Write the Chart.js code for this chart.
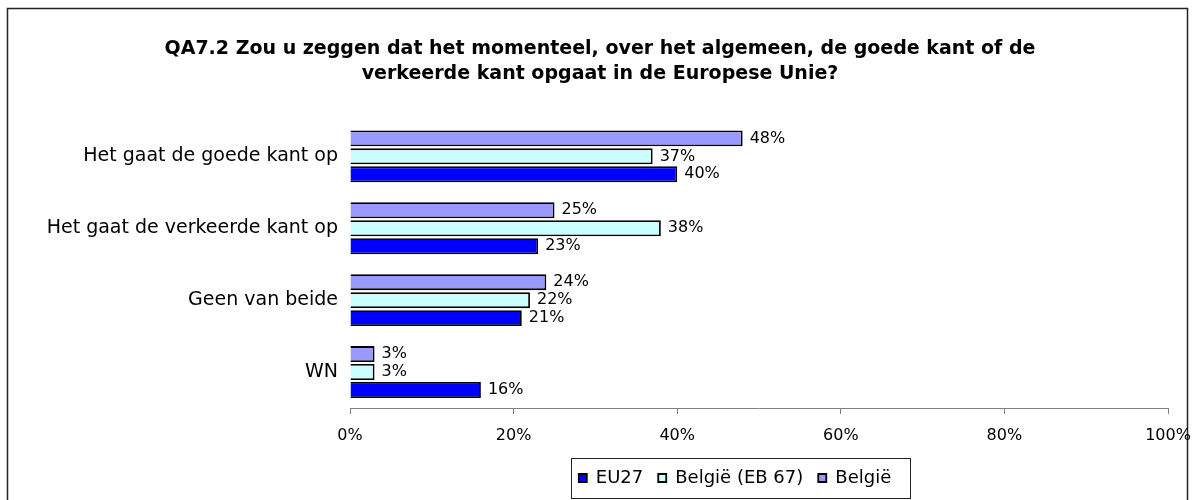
<!DOCTYPE html>
<html>
<head>
<meta charset="utf-8">
<script src="https://cdn.jsdelivr.net/npm/chart.js"></script>
<style>
  html, body { margin: 0; padding: 0; background: #fff; }
  #wrap { position: relative; width: 1195px; height: 500px; }
</style>
</head>
<body>
<div id="wrap"><canvas id="bar-chart"></canvas></div>
<script>
const categories = ['Het gaat de goede kant op', 'Het gaat de verkeerde kant op', 'Geen van beide', 'WN'];
const belgie = [48, 25, 24, 3];
const belgieEb67 = [37, 38, 22, 3];
const eu27 = [40, 23, 21, 16];
const xTicks = [0, 20, 40, 60, 80, 100];

const FONT = 'DejaVu Sans';
const LEGEND_SHIFT = 135;

// outer frame of the picture
const frame = {
  id: 'frame',
  beforeDraw(chart) {
    const ctx = chart.ctx;
    ctx.save();
    ctx.strokeStyle = '#222';
    ctx.lineWidth = 1.5;
    ctx.strokeRect(7.5, 8.5, 1180, 520);
    ctx.restore();
  }
};

// move the legend to the right and box it in
const legendBox = {
  id: 'legendBox',
  afterLayout(chart) {
    const lg = chart.legend;
    lg.left += LEGEND_SHIFT;
    lg.right += LEGEND_SHIFT;
  },
  afterDraw(chart) {
    const lg = chart.legend;
    if (!lg || !lg.lineWidths) return;
    const pad = lg.options.labels.padding;
    const size = lg.options.labels.font.size;
    const start = (lg.left + pad + lg.right - lg.lineWidths[0]) / 2;
    const end = start + lg.lineWidths[0] - pad;
    const mid = lg.top + pad + size / 2;
    const ctx = chart.ctx;
    ctx.save();
    ctx.strokeStyle = '#222';
    ctx.lineWidth = 1;
    const l = Math.round(start - 8) + 0.5, r = Math.round(end + 19) + 0.5;
    const t = Math.round(mid - 20) + 0.5;
    ctx.strokeRect(l, t, r - l, 40);
    ctx.restore();
  }
};

const barLabels = {
  id: 'barLabels',
  afterDatasetsDraw(chart) {
    const ctx = chart.ctx;
    ctx.save();
    ctx.font = '16px "' + FONT + '"';
    ctx.fillStyle = '#000';
    ctx.textBaseline = 'middle';
    chart.data.datasets.forEach((ds, i) => {
      chart.getDatasetMeta(i).data.forEach((bar, j) => {
        ctx.fillText(ds.data[j] + '%', bar.x + 7, bar.y);
      });
    });
    ctx.restore();
  }
};

new Chart('bar-chart', {
  type: 'bar',
  data: {
    labels: categories,
    datasets: [
      { label: 'België', data: belgie, backgroundColor: '#9999FF' },
      { label: 'België (EB 67)', data: belgieEb67, backgroundColor: '#CCFFFF' },
      { label: 'EU27', data: eu27, backgroundColor: '#0000FF' }
    ].map(d => Object.assign(d, {
      borderColor: '#000', borderWidth: 1.8,
      categoryPercentage: 0.75, barPercentage: 0.89
    }))
  },
  options: {
    indexAxis: 'y',
    responsive: true,
    maintainAspectRatio: false,
    animation: false,
    layout: { padding: { left: 32, right: 27, top: 0, bottom: 3 } },
    plugins: {
      title: {
        display: true,
        text: ['QA7.2 Zou u zeggen dat het momenteel, over het algemeen, de goede kant of de',
               'verkeerde kant opgaat in de Europese Unie?'],
        color: '#000',
        font: { family: FONT, size: 19, weight: 'bold', lineHeight: 1.3 },
        padding: { top: 37, bottom: 34 }
      },
      legend: {
        position: 'bottom',
        reverse: true,
        labels: {
          color: '#000',
          font: { family: FONT, size: 18 },
          boxWidth: 8,
          boxHeight: 8,
          padding: 15
        }
      },
      tooltip: { enabled: false }
    },
    scales: {
      x: {
        min: 0,
        max: 100,
        afterBuildTicks: s => { s.ticks = xTicks.map(v => ({ value: v })); },
        ticks: {
          color: '#000',
          font: { family: FONT, size: 16 },
          padding: 12,
          maxRotation: 0,
          callback: v => v + '%'
        },
        grid: { drawOnChartArea: false, drawTicks: true, tickLength: 6, color: '#808080' },
        border: { color: '#808080' },
        afterFit: s => { s.height = 46; s.paddingRight = 0; }
      },
      y: {
        ticks: { color: '#000', font: { family: FONT, size: 19 }, padding: 12 },
        grid: { display: false, drawTicks: false },
        border: { display: false },
        afterFit: s => { s.width = 318; }
      }
    }
  },
  plugins: [frame, legendBox, barLabels]
});
</script>
</body>
</html>
